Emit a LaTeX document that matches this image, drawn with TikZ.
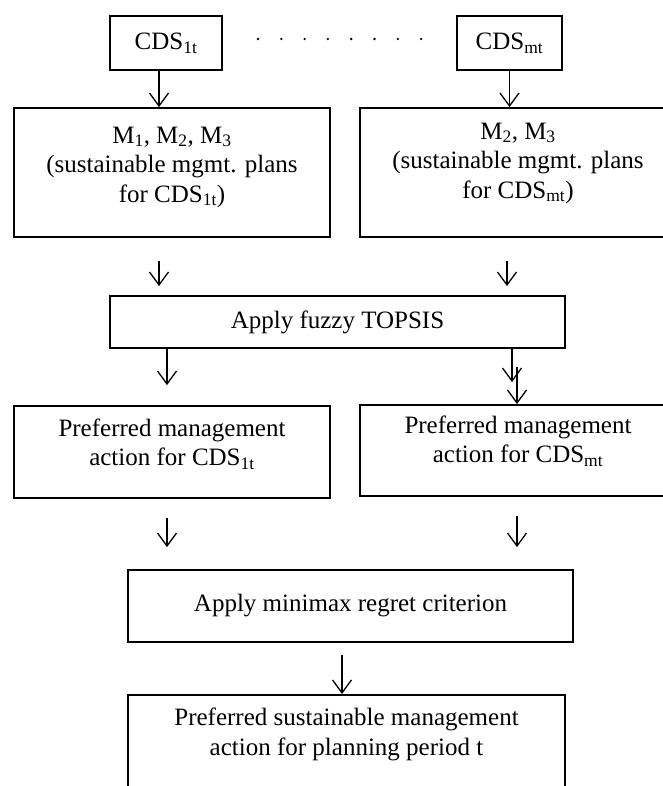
\documentclass[tikz,border=0pt]{standalone}
\usepackage{fontspec}
\setmainfont{Liberation Serif}
\usetikzlibrary{arrows.meta, positioning}

\begin{document}
\begin{tikzpicture}[
    x=1pt, y=-1pt,
    box/.style={
        draw,
        line width=1.8pt,
        font=\fontsize{25}{29.5}\selectfont,
        align=center,
        inner sep=0pt
    },
    wide/.style={
        box,
        minimum width=316
    },
    arrow/.style={
        -{Straight Barb[length=13pt, width=19pt, line width=1.3pt]},
        line width=1.3pt
    }
]

\clip (0,0) rectangle (663,786);

% Top row: CDS boxes
\node[box, minimum width=112, minimum height=54] (cds1) at (166, 43) {CDS\textsubscript{1t}};
\node[box, minimum width=105, minimum height=54] (cdsm) at (509.5, 43) {CDS\textsubscript{mt}};
\foreach \i in {0,...,7} {
    \fill (258 + \i*23.3, 39) circle (1.3pt);
}

% Management plans
\node[wide, minimum height=129, text depth=16pt] (plan1) at (172, 172.5) {
    M\textsubscript{1}, M\textsubscript{2}, M\textsubscript{3}\\
    (sustainable mgmt. plans\\
    for CDS\textsubscript{1t})
};
\node[wide, minimum height=129, text depth=24pt] (planm) at (518, 172.5) {
    M\textsubscript{2}, M\textsubscript{3}\\
    (sustainable mgmt. plans\\
    for CDS\textsubscript{mt})
};

\draw[arrow] ([xshift=-7pt]cds1.south) -- ([xshift=-7pt]cds1.south |- plan1.north);
\draw[arrow] (cdsm.south) -- (cdsm.south |- planm.north);

% Fuzzy TOPSIS
\node[box, minimum width=455, minimum height=52] (topsis) at (337.5, 322) {Apply fuzzy TOPSIS};

\draw[arrow] ([yshift=-23pt]plan1.south -| 159,0) -- ([yshift=9pt]topsis.north -| 159,0);
\draw[arrow] ([yshift=-23pt]planm.south -| 507,0) -- ([yshift=9pt]topsis.north -| 507,0);

% Preferred actions
\node[wide, minimum height=92, text depth=20pt] (pref1) at (172, 452) {
    Preferred management\\
    action for CDS\textsubscript{1t}
};
\node[wide, minimum height=91, text depth=23pt] (prefm) at (518, 450.5) {
    Preferred management\\
    action for CDS\textsubscript{mt}
};

\draw[arrow] (topsis.south -| 167,0) -- ([yshift=20pt]pref1.north -| 167,0);
\draw[arrow] (topsis.south -| 512,0) -- ([yshift=22pt]prefm.north -| 512,0);
\draw[arrow] ([yshift=37pt]prefm.north -| 517,0) -- (prefm.north -| 517,0);

% Minimax regret
\node[box, minimum width=445, minimum height=72] (regret) at (350.5, 606) {Apply minimax regret criterion};

\draw[arrow] ([yshift=-19pt]pref1.south -| 167,0) -- ([yshift=22pt]regret.north -| 167,0);
\draw[arrow] ([yshift=-19pt]prefm.south -| 517,0) -- ([yshift=22pt]regret.north -| 517,0);

% Final decision
\node[box, minimum width=437, anchor=north, inner ysep=13pt, text depth=60pt] (final) at (346.5, 694) {
    Preferred sustainable management\\
    action for planning period t
};

\draw[arrow] ([yshift=-12pt]regret.south -| 342,0) -- (final.north -| 342,0);

\end{tikzpicture}
\end{document}
